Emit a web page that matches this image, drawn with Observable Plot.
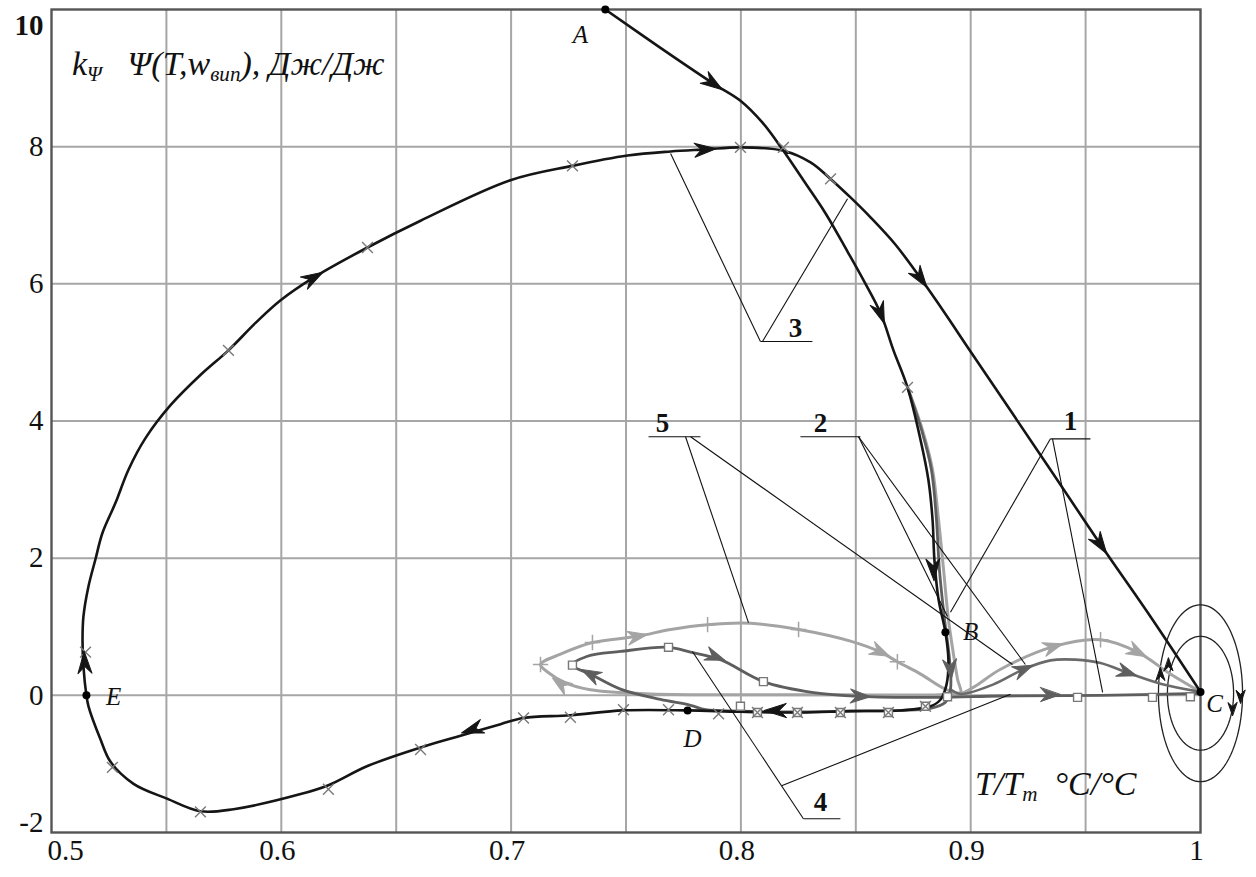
<!DOCTYPE html>
<html><head><meta charset="utf-8">
<script src="https://cdn.jsdelivr.net/npm/d3@7"></script>
<script src="https://cdn.jsdelivr.net/npm/@observablehq/plot@0.6"></script>
<style>
body{margin:0;background:#fff;}
#wrap{position:relative;width:1256px;height:877px;}
.lab{position:absolute;font-family:"Liberation Serif",serif;font-style:italic;color:#111;white-space:nowrap;line-height:1;}
.lab sub{font-size:62%;vertical-align:baseline;position:relative;top:0.3em;}
</style></head><body><div id="wrap"></div>
<script>
// ---- axes / ticks ----
const xTicks = [0.5, 0.6, 0.7, 0.8, 0.9, 1];
const xTickLabels = ["0.5", "0.6", "0.7", "0.8", "0.9", "1"];
const yTicks = [-2, 0, 2, 4, 6, 8, 10];
const yTickLabels = ["-2", "0", "2", "4", "6", "8", "10"];
const xGrid = [0.55, 0.6, 0.65, 0.7, 0.75, 0.8, 0.85, 0.9, 0.95];
const yGrid = [0, 2, 4, 6, 8];

// ---- trajectories (T/Tm, kΨ·Ψ) ----
const curve3 = [[0.741,10],[0.765,9.44],[0.788,8.92],[0.7998,8.67],[0.8094,8.35],[0.8185,7.94],[0.8272,7.51],[0.8368,7.03],[0.8464,6.47],[0.8534,6.05],[0.8608,5.57],[0.8664,5.03],[0.8725,4.49],[0.8782,3.72],[0.8816,3.14],[0.8834,2.56],[0.8842,1.98],[0.886,1.40],[0.889,0.92],[0.8903,0.52],[0.8895,0.16],[0.8869,-0.06],[0.8825,-0.16],[0.8694,-0.22],[0.8477,-0.23],[0.8259,-0.25],[0.7998,-0.24],[0.7768,-0.22],[0.7489,-0.22],[0.7258,-0.29],[0.7054,-0.33],[0.6954,-0.42],[0.6758,-0.61],[0.6606,-0.76],[0.6375,-1.03],[0.6205,-1.31],[0.6084,-1.44],[0.5792,-1.66],[0.5648,-1.69],[0.5505,-1.51],[0.5357,-1.29],[0.5257,-0.97],[0.5213,-0.64],[0.5161,-0.16],[0.5152,0],[0.5139,0.42],[0.5135,0.81],[0.5139,1.15],[0.5161,1.59],[0.5191,1.98],[0.5222,2.37],[0.5279,2.81],[0.5335,3.29],[0.5409,3.75],[0.5518,4.23],[0.5648,4.67],[0.577,5.03],[0.5888,5.43],[0.5997,5.76],[0.614,6.09],[0.6375,6.53],[0.6606,6.92],[0.6997,7.51],[0.7267,7.72],[0.7507,7.87],[0.7694,7.93],[0.7846,7.96],[0.7998,7.99],[0.8185,7.94],[0.8303,7.77],[0.839,7.53],[0.8477,7.26],[0.8564,6.97],[0.8673,6.57],[0.8782,6.08],[0.889,5.56],[0.8986,5.08],[0.9347,3.29],[0.9565,2.20],[0.9782,1.15],[1.0,0.05]];
const curve5 = [[0.8725,4.49],[0.879,3.87],[0.8834,3.29],[0.886,2.56],[0.8882,1.83],[0.8903,1.11],[0.8925,0.60],[0.8943,0.23],[0.8956,0.03],[0.8869,0.01],[0.8259,0.01],[0.7607,0.02],[0.7345,0.08],[0.7237,0.18],[0.7163,0.33],[0.7128,0.45],[0.7215,0.60],[0.7354,0.77],[0.755,0.86],[0.7694,0.96],[0.7855,1.03],[0.8042,1.05],[0.8251,0.96],[0.8477,0.79],[0.8608,0.63],[0.8681,0.49],[0.8782,0.31],[0.889,0.09],[0.8956,0.03],[0.9013,0.12],[0.913,0.38],[0.936,0.71],[0.9565,0.81],[0.9726,0.63],[0.9869,0.31],[1.0,0.05]];
const curve4 = [[0.8725,4.49],[0.8786,3.87],[0.8829,3.29],[0.8851,2.56],[0.8864,1.83],[0.8886,1.11],[0.8908,0.52],[0.8912,0.09],[0.889,-0.10],[0.8825,-0.19],[0.8694,-0.22],[0.8477,-0.23],[0.8259,-0.24],[0.7998,-0.23],[0.7846,-0.21],[0.7781,-0.145],[0.765,-0.06],[0.7476,0.09],[0.7345,0.31],[0.7267,0.44],[0.7332,0.57],[0.7476,0.64],[0.7685,0.70],[0.7781,0.63],[0.7911,0.52],[0.8098,0.20],[0.8316,0.04],[0.852,-0.015],[0.8856,-0.03],[0.913,-0.01],[0.9565,0.0],[1.0,0.03]];
const curve2 = [[0.8912,0.09],[0.8956,0.02],[0.9099,0.16],[0.923,0.38],[0.9347,0.51],[0.9456,0.52],[0.9565,0.47],[0.9682,0.33],[0.9826,0.17],[1.0,0.05]];

// arrows: [x, y, direction in degrees (0 = up, clockwise)]
const arrowsBlack = [[0.788,8.92,124],[0.8608,5.57,160],[0.8838,1.83,177],[0.7846,7.96,86],[0.8782,6.08,145],[0.9565,2.20,146],[0.614,6.09,60],[0.5144,0.48,358],[0.683,-0.50,252],[0.815,-0.22,270]];
const arrowsDark = [[0.8912,0.38,175],[0.789,0.56,110],[0.852,-0.015,92],[0.7345,0.31,297],[0.9347,0.01,90],[0.923,0.38,67],[0.9682,0.33,108]];
const arrowsLight = [[0.755,0.86,80],[0.8608,0.63,115],[0.7215,0.17,305],[0.936,0.71,73],[0.9726,0.63,117]];
const arrowsOrbit = [[1.0174,-0.02,180],[1.0139,-0.2,180],[0.9826,0.31,0],[0.9861,0.45,0]];

// point markers
const xMarks = [[0.5148,0.63],[0.5265,-1.05],[0.5648,-1.70],[0.6205,-1.37],[0.6606,-0.79],[0.7054,-0.33],[0.7258,-0.32],[0.7489,-0.21],[0.7685,-0.21],[0.7903,-0.27],[0.8072,-0.25],[0.8246,-0.25],[0.8433,-0.25],[0.8642,-0.25],[0.8803,-0.16],[0.577,5.03],[0.6375,6.53],[0.7267,7.72],[0.7998,7.99],[0.8185,7.99],[0.839,7.53],[0.8725,4.49]];
const squareMarks = [[0.7267,0.44],[0.7685,0.70],[0.8098,0.20],[0.7998,-0.16],[0.8072,-0.25],[0.8246,-0.25],[0.8433,-0.25],[0.8642,-0.25],[0.8803,-0.16],[0.8899,-0.02],[0.9465,-0.03],[0.9791,-0.03],[0.9956,-0.02]];
const plusMarks = [[0.7354,0.77],[0.7855,1.03],[0.8251,0.96],[0.8681,0.49],[0.9565,0.81],[0.7128,0.45]];

// named points
const pointNames = ["A", "B", "C", "D", "E"];
const pointXY = [[0.741,10],[0.889,0.92],[1.0,0.05],[0.7768,-0.22],[0.5152,0]];
const pointLabelXY = [[0.7302,9.63],[0.9,0.93],[1.0061,-0.12],[0.7789,-0.64],[0.527,-0.03]];

// curve number callouts
const calloutNames = ["1", "2", "3", "4", "5"];
const calloutXY = [[0.9434,3.99],[0.8346,3.96],[0.8238,5.35],[0.8346,-1.56],[0.7659,3.97]];
const leaders = [[0.8085,5.16,0.8311,5.16],[0.8085,5.16,0.7694,7.90],[0.8094,5.16,0.8464,7.24],
  [0.7598,3.77,0.7824,3.77],[0.7759,3.77,0.8033,1.06],[0.7781,3.77,0.9182,0.45],
  [0.8259,3.77,0.852,3.77],[0.8512,3.77,0.8899,1.15],[0.8512,3.77,0.9238,0.45],
  [0.9347,3.74,0.9521,3.74],[0.9347,3.74,0.8912,1.21],[0.9356,3.74,0.9574,0.044],
  [0.8272,-1.80,0.8433,-1.80],[0.8272,-1.80,0.7789,0.64],[0.8177,-1.32,0.9173,0.015]];

// orbits around C
const orbitCenter = [1.0, 0.03];
const orbitRadii = [[0.0183, 1.29], [0.0144, 0.83]];

const X = d => d[0], Y = d => d[1];
const ellipses = orbitRadii.map(([rx, ry]) => d3.range(0, 361, 4).map(a => [orbitCenter[0] + rx * Math.cos(a * Math.PI / 180), orbitCenter[1] + ry * Math.sin(a * Math.PI / 180)]));

const barb = {draw(ctx, l, r) { ctx.moveTo(0, -l); ctx.lineTo(r, 0); ctx.lineTo(0, -l * 0.32); ctx.lineTo(-r, 0); ctx.closePath(); }};
const arrowMark = (data, color, len, r) => Plot.vector(data, {x: X, y: Y, rotate: d => d[2], length: len, r, shape: barb, anchor: "middle", fill: color, stroke: color, strokeWidth: 1});

const black = "#151515", dark = "#5e5e5e", light = "#a4a4a4";
const serif = "Liberation Serif";

const plot = Plot.plot({
  width: 1256, height: 877,
  marginTop: 9, marginRight: 56, marginBottom: 45, marginLeft: 51,
  x: {domain: [0.5, 1], axis: null},
  y: {domain: [-2, 10], axis: null},
  style: {fontFamily: serif, background: "white", color: "#111"},
  marks: [
    Plot.ruleX(xGrid, {stroke: "#a6a6a6", strokeWidth: 2}),
    Plot.ruleY(yGrid, {stroke: "#a6a6a6", strokeWidth: 2}),
    Plot.frame({stroke: "#555", strokeWidth: 2.4}),
    ...ellipses.map(e => Plot.line(e, {x: X, y: Y, stroke: "#222", strokeWidth: 1.3})),
    Plot.line(curve5, {x: X, y: Y, stroke: light, strokeWidth: 3, curve: "catmull-rom"}),
    Plot.line(curve2, {x: X, y: Y, stroke: "#6a6a6a", strokeWidth: 2.6, curve: "catmull-rom"}),
    Plot.line(curve4, {x: X, y: Y, stroke: dark, strokeWidth: 2.8, curve: "catmull-rom"}),
    Plot.line(curve3, {x: X, y: Y, stroke: black, strokeWidth: 2.6, curve: "catmull-rom"}),
    Plot.dot(plusMarks, {x: X, y: Y, symbol: "plus", r: 5, stroke: light, strokeWidth: 1.5, fill: "none"}),
    Plot.dot(squareMarks, {x: X, y: Y, symbol: "square", r: 4.5, stroke: "#777", strokeWidth: 1.4, fill: "white"}),
    Plot.dot(xMarks, {x: X, y: Y, symbol: "times", r: 5, stroke: "#7a7a7a", strokeWidth: 1.4, fill: "none"}),
    arrowMark(arrowsLight, light, 20, 7),
    arrowMark(arrowsDark, dark, 20, 7),
    arrowMark(arrowsBlack, black, 22, 7),
    arrowMark(arrowsOrbit, black, 13, 4.5),
    Plot.link(leaders, {x1: d => d[0], y1: d => d[1], x2: d => d[2], y2: d => d[3], stroke: "#111", strokeWidth: 1.1}),
    Plot.dot(pointXY, {x: X, y: Y, r: 4, fill: "#000"}),
    Plot.text(pointLabelXY, {x: X, y: Y, text: (d, i) => pointNames[i], fontSize: 25, fontStyle: "italic", fill: "#111"}),
    Plot.text(calloutXY, {x: X, y: Y, text: (d, i) => calloutNames[i], fontSize: 27, fontWeight: "bold", fill: "#111"}),
    // tick labels
    Plot.text(yTicks.slice(1, -1), {y: d => d, text: d => yTickLabels[yTicks.indexOf(d)], frameAnchor: "left", textAnchor: "end", dx: -8, fontSize: 29, fill: "#111"}),
    Plot.text([yTicks[yTicks.length - 1]], {y: d => d, text: d => yTickLabels[yTicks.indexOf(d)], frameAnchor: "left", textAnchor: "end", dx: -8, dy: 16, fontSize: 29, fontWeight: "bold", fill: "#111"}),
    Plot.text([yTicks[0]], {y: d => d, text: d => yTickLabels[yTicks.indexOf(d)], frameAnchor: "left", textAnchor: "end", dx: -8, dy: -10, fontSize: 29, fill: "#111"}),
    Plot.text([xTicks[0]], {x: d => d, text: d => xTickLabels[xTicks.indexOf(d)], frameAnchor: "bottom", dy: 27, dx: 14, fontSize: 29, fill: "#111"}),
    Plot.text(xTicks.slice(1), {x: d => d, text: d => xTickLabels[xTicks.indexOf(d)], frameAnchor: "bottom", dy: 27, dx: -4, fontSize: 29, fill: "#111"})
  ]
});

const wrap = document.getElementById("wrap");
wrap.appendChild(plot);

const yLab = document.createElement("div");
yLab.className = "lab";
yLab.style.cssText = "left:72px;top:47px;font-size:34px;";
yLab.innerHTML = "k<sub>Ψ</sub>&nbsp;&nbsp;&nbsp;Ψ(T,w<sub>вип</sub>), Дж/Дж";
wrap.appendChild(yLab);

const xLab = document.createElement("div");
xLab.className = "lab";
xLab.style.cssText = "left:975px;top:767px;font-size:34px;";
xLab.innerHTML = "T/T<sub>m</sub>&nbsp;&nbsp;°C/°C";
wrap.appendChild(xLab);
</script></body></html>
